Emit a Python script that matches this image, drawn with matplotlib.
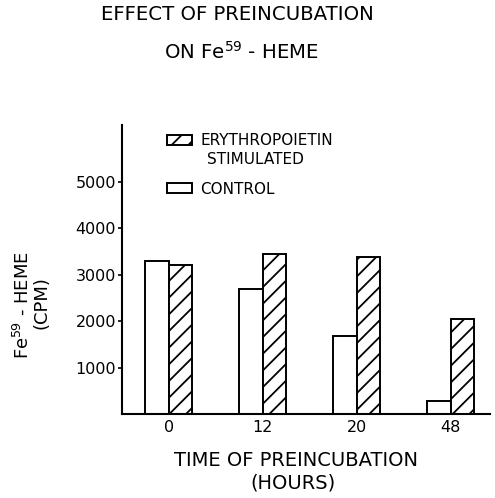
import numpy as np
import matplotlib
matplotlib.use("Agg")
import matplotlib.pyplot as plt
from matplotlib.patches import Patch

# Data (CPM of Fe59-heme)
hours = ["0", "12", "20", "48"]
control = [3300, 2690, 1690, 280]
stimulated = [3200, 3440, 3390, 2040]
yticks = [1000, 2000, 3000, 4000, 5000]

plt.rcParams['font.family'] = ['DejaVu Sans']
plt.rcParams['hatch.linewidth'] = 1.3
plt.rcParams['hatch.color'] = 'black'

fig = plt.figure(figsize=(4.95, 4.98), dpi=100)
ax = fig.add_axes([0.2459, 0.1683, 0.744, 0.5807])

x = np.arange(len(hours))
w = 0.25
ax.bar(x - w/2, control, w, facecolor='white', edgecolor='black', linewidth=1.4)
ax.bar(x + w/2, stimulated, w, facecolor='white', edgecolor='black', linewidth=1.4, hatch='//')

ax.set_xlim(-0.5, 3.42)
ax.set_ylim(0, 6220)

ax.spines['top'].set_visible(False)
ax.spines['right'].set_visible(False)
ax.spines['left'].set_linewidth(1.5)
ax.spines['bottom'].set_linewidth(1.5)

ax.set_yticks(yticks)
ax.set_yticklabels([str(v) for v in yticks], fontsize=11.5)
ax.tick_params(axis='y', direction='out', length=3, width=1.2, pad=1)
ax.set_xticks(x)
ax.set_xticklabels(hours, fontsize=11.5)
ax.tick_params(axis='x', length=0, pad=4)

# legend (second line of the first label is placed separately)
handles = [Patch(facecolor='white', edgecolor='black', hatch='//', linewidth=1.4),
           Patch(facecolor='white', edgecolor='black', linewidth=1.4)]
labels = ["ERYTHROPOIETIN", "CONTROL"]
leg = ax.legend(handles, labels, loc='upper left', bbox_to_anchor=(166.7/495, 1 - 133/498),
                bbox_transform=fig.transFigure, frameon=False, fontsize=11,
                handlelength=1.65, handleheight=0.65, handletextpad=0.55,
                labelspacing=2.2, borderpad=0, borderaxespad=0)
fig.text(206.5/495, 1 - 159/498, "STIMULATED", ha='left', va='center', fontsize=11)

# titles and axis labels
fig.text(237/495, 1 - 15/498, "EFFECT OF PREINCUBATION", ha='center', va='center', fontsize=14.2)
fig.text(241/495, 1 - 52/498, "ON Fe$^{59}$ - HEME", ha='center', va='center', fontsize=14.2)

fig.text(23/495, 1 - 305/498, "Fe$^{59}$ - HEME", ha='center', va='center', rotation=90, fontsize=13)
fig.text(41/495, 1 - 303/498, "(CPM)", ha='center', va='center', rotation=90, fontsize=13)

fig.text(296/495, 1 - 460/498, "TIME OF PREINCUBATION", ha='center', va='center', fontsize=14)
fig.text(293/495, 1 - 483/498, "(HOURS)", ha='center', va='center', fontsize=14)

fig.savefig("out.png", dpi=100)
